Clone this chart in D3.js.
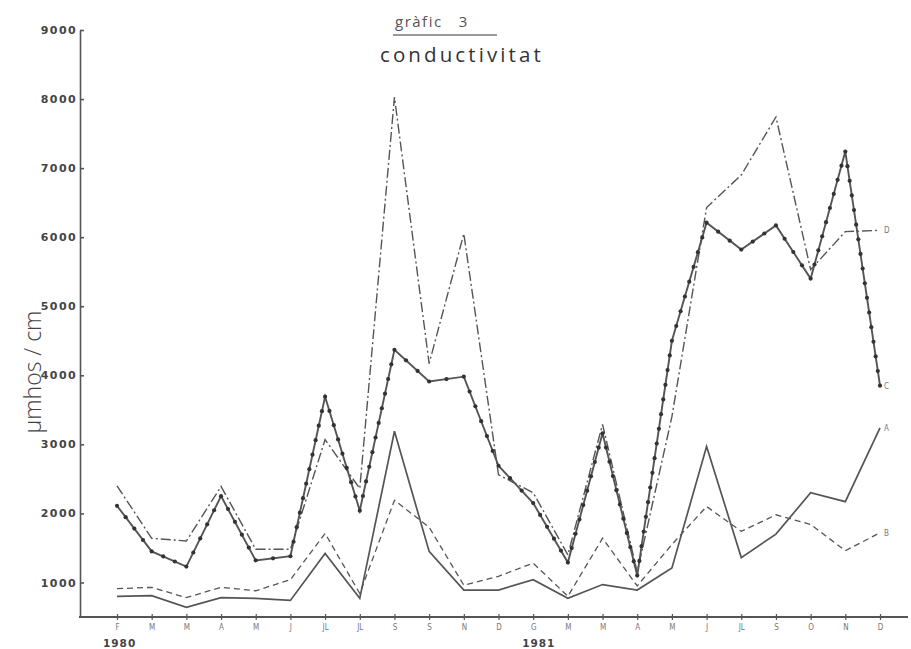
<!doctype html>
<html lang="ca">
<head>
<meta charset="utf-8">
<title>conductivitat</title>
<script src="https://cdnjs.cloudflare.com/ajax/libs/d3/7.8.5/d3.min.js"></script>
<style>
  body{ margin:0; background:#fff; }
  svg{ display:block; font-family:"Open Sans", sans-serif; }
  .yAxis text{ font-family:"DejaVu Sans", sans-serif; font-weight:bold; font-size:11px; fill:#444; letter-spacing:1.4px; }
  .yAxis line, .yAxis path{ stroke:#555; stroke-width:1.6px; }
  .xAxis text{ font-family:"DejaVu Sans", sans-serif; font-stretch:condensed; font-size:8px; fill:#777; }
  .xAxis line{ stroke:#555; stroke-width:1.2px; }
  .serie{ fill:none; stroke:#555; stroke-linejoin:miter; }
  .end-label{ font-family:"DejaVu Sans", sans-serif; font-stretch:condensed; font-size:8px; fill:#777; }
</style>
</head>
<body>
<svg width="911" height="649"></svg>
<script>
// month labels as written under the axis (feb 1980 .. dec 1981)
const months=["F","M","M","A","M","J","JL","JL","S","S","N","D",
              "G","M","M","A","M","J","JL","S","O","N","D"];
const years=["1980","1981"];
const yTicks=[1000,2000,3000,4000,5000,6000,7000,8000,9000];

// conductivity, umhos/cm
const serieA=[800,810,640,780,770,740,1420,770,3190,1450,890,890,
              1040,770,970,890,1210,2970,1360,1700,2300,2170,3240];
const serieB=[910,930,780,930,880,1040,1710,840,2190,1800,960,1090,
              1280,800,1640,950,1550,2100,1740,1980,1840,1460,1720];
const serieC=[2110,1450,1230,2250,1320,1380,3690,2040,4370,3910,3980,2690,
              2150,1290,3160,1100,4500,6210,5820,6170,5400,7240,3850];
const serieD=[2400,1640,1600,2390,1480,1480,3070,2360,8030,4170,6050,2560,
              2300,1400,3290,1150,3400,6430,6900,7740,5530,6080,6100];

const svg=d3.select("svg");

const x=d3.scalePoint()
  .domain(d3.range(months.length))
  .range([117,880]);

const y=d3.scaleLinear()
  .domain([500,9000])
  .range([617,30]);

// title
svg.append("text")
  .attr("x",395).attr("y",27)
  .style("font-size","15px").style("letter-spacing","1.5px")
  .style("white-space","pre")
  .style("fill","#555")
  .text("gràfic   3");
svg.append("line")
  .attr("x1",393).attr("x2",497).attr("y1",35).attr("y2",35)
  .style("stroke","#777").style("stroke-width","1.5px");
svg.append("text")
  .attr("x",380).attr("y",62)
  .style("font-size","20.5px").style("letter-spacing","3.1px")
  .style("fill","#333")
  .text("conductivitat");

// y axis
const yAxis=d3.axisLeft(y)
  .tickValues(yTicks)
  .tickSize(-4)
  .tickSizeOuter(0)
  .tickPadding(3)
  .tickFormat(d=>d);

svg.append("g")
  .attr("class","yAxis")
  .attr("transform","translate(80,0)")
  .call(yAxis);

svg.append("text")
  .attr("transform","translate(41,372) rotate(-90)")
  .style("text-anchor","middle")
  .style("font-size","23px")
  .style("font-weight","300")
  .style("fill","#444")
  .text("μmhos / cm");

// x axis
svg.append("line")
  .attr("x1",79).attr("x2",908).attr("y1",617).attr("y2",617)
  .style("stroke","#555").style("stroke-width","1.8px");

const xAxis=d3.axisBottom(x)
  .tickSizeInner(3)
  .tickSizeOuter(0)
  .tickPadding(4)
  .tickFormat(i=>months[i]);

const gx=svg.append("g")
  .attr("class","xAxis")
  .attr("transform","translate(0,617)")
  .call(xAxis);
gx.select(".domain").remove();
gx.selectAll(".tick line").attr("y1",-3);

svg.selectAll(".year")
  .data(years)
  .enter()
  .append("text")
  .attr("class","year")
  .attr("x",(d,i)=>i==0 ? x(0)-14 : x(12)-11)
  .attr("y",647)
  .style("font-family","DejaVu Sans, sans-serif")
  .style("font-weight","bold")
  .style("font-size","10.5px")
  .style("letter-spacing","1px")
  .style("fill","#444")
  .text(d=>d);

// series
const line=d3.line()
  .x((d,i)=>x(i))
  .y(d=>y(d));

const series=[
  {name:"A", values:serieA, width:1.7, dash:null},
  {name:"B", values:serieB, width:1.3, dash:"6,4"},
  {name:"C", values:serieC, width:1.9, dash:null},
  {name:"D", values:serieD, width:1.4, dash:"10,3,2,3"}
];

series.forEach(s=>{
  svg.append("path")
    .datum(s.values)
    .attr("class","serie")
    .attr("d",line)
    .style("stroke-width",s.width+"px")
    .style("stroke-dasharray",s.dash);

  const last=s.values.length-1;
  svg.append("text")
    .attr("class","end-label")
    .attr("x",x(last)+4)
    .attr("y",y(s.values[last])+3)
    .text(s.name);
});

// dots on the C line, spread evenly along each segment
const dots=[];
for(let i=0;i<serieC.length-1;i++){
  const x0=x(i), y0=y(serieC[i]), x1=x(i+1), y1=y(serieC[i+1]);
  const len=Math.hypot(x1-x0,y1-y0);
  const n=Math.max(1,Math.round(len/15));
  for(let k=0;k<n;k++){
    dots.push([x0+(x1-x0)*k/n, y0+(y1-y0)*k/n]);
  }
}
dots.push([x(serieC.length-1), y(serieC[serieC.length-1])]);

svg.append("g")
  .selectAll("circle")
  .data(dots)
  .enter()
  .append("circle")
  .attr("cx",d=>d[0])
  .attr("cy",d=>d[1])
  .attr("r",2.1)
  .style("fill","#333");
</script>
</body>
</html>
